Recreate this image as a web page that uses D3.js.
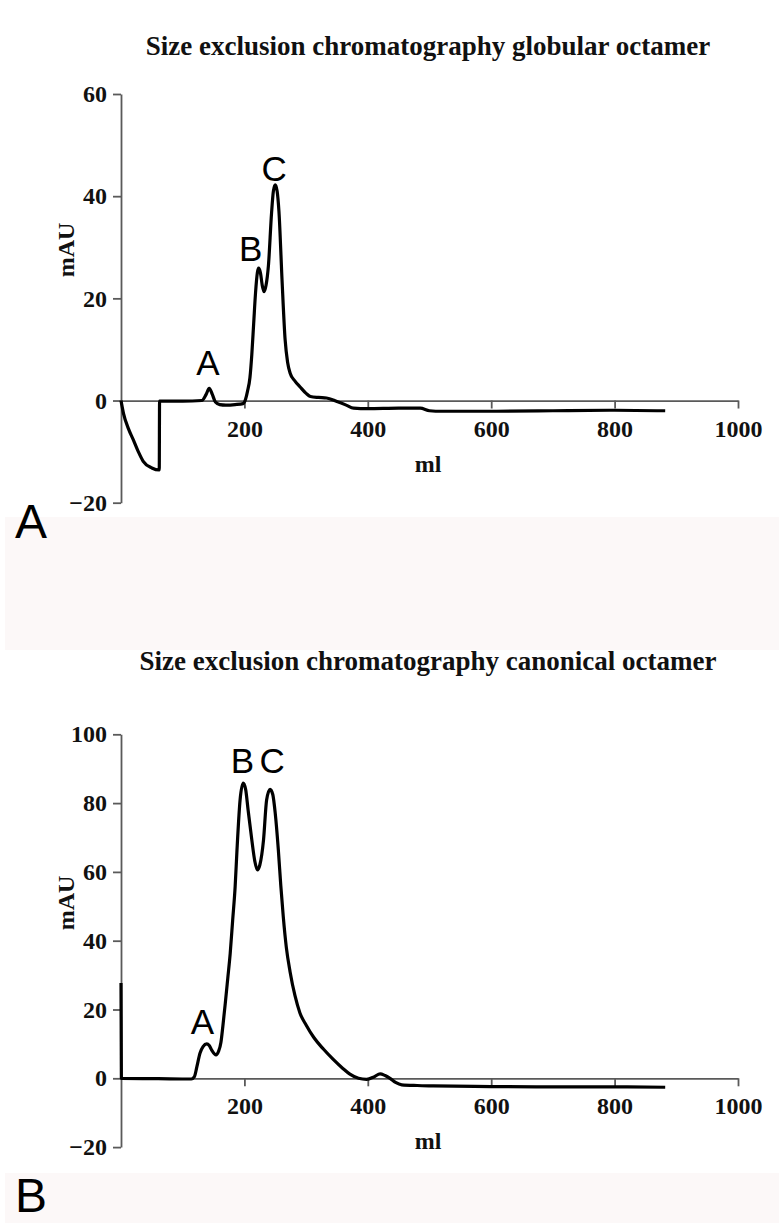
<!DOCTYPE html>
<html>
<head>
<meta charset="utf-8">
<script src="https://cdn.jsdelivr.net/npm/d3@7"></script>
<style>
  body { margin: 0; background: #fff; }
  svg { display: block; }
  .axis path, .axis line { stroke: #5a5a5a; stroke-width: 1.8; }
  .axis text { font-family: "Liberation Serif", "Times New Roman", serif; font-weight: bold; font-size: 24px; fill: #111; }
  .title { font-family: "Liberation Serif", "Times New Roman", serif; font-weight: bold; font-size: 27px; fill: #111; }
  .peak { font-family: "Liberation Sans", Arial, sans-serif; font-size: 35px; fill: #000; }
  .panel { font-family: "Liberation Sans", Arial, sans-serif; font-size: 48px; fill: #000; }
</style>
</head>
<body>
<script>
// globular octamer run (panel A)
var globularMl  = [0, 4, 12, 20, 28, 36, 50, 62, 62.5, 100, 131, 138, 143, 148, 153, 160, 170, 185, 198,
                   202, 205, 209, 212, 215, 218, 221, 223, 226, 229, 232, 235, 239, 244, 247, 250, 253, 256,
                   261, 266, 270, 274, 282, 290, 300, 307, 320, 333, 350, 365, 377, 400, 450, 485, 500,
                   520, 600, 700, 800, 882];
var globularMau = [0, -2.5, -5.5, -7.7, -10, -11.9, -13.2, -13.6, -0.1, -0.1, 0, 1.2, 2.4, 1.2, -0.3, -0.8, -0.9, -0.8, -0.6,
                   0.3, 1.8, 4.5, 9, 15, 21, 25, 25.9, 25, 22.5, 21.3, 22.5, 26.5, 36.7, 41, 42.2, 41, 37,
                   23.6, 11.9, 7.5, 5.4, 3.8, 2.7, 1.4, 0.8, 0.6, 0.5, -0.2, -0.9, -1.5, -1.6, -1.5, -1.5, -2.0,
                   -2.1, -2.1, -2.0, -1.9, -2.0];

// canonical octamer run (panel B)
var canonicalMl  = [0, 0.6, 60, 114, 119, 123, 128, 133, 139, 143, 147, 154, 158, 162, 165, 169, 173, 177, 181,
                    185, 188, 193, 198, 202, 206, 212, 217, 221, 225, 231, 236, 241.6, 246, 250, 255, 259, 263,
                    268, 274, 282, 290, 300, 312, 328, 344, 360, 371, 385, 398, 410, 420, 428, 436, 445, 455,
                    480, 506, 600, 700, 800, 882];
var canonicalMau = [27.7, 0, -0.1, -0.2, 0.5, 3.4, 7.3, 9.2, 10, 9.5, 8.2, 6.8, 7.8, 10.5, 15, 21.8, 29, 36.3, 46,
                    55.7, 66.4, 80.9, 85.8, 84, 78, 69.3, 63, 60.6, 62, 69.3, 80.9, 84, 82.5, 77, 66.4, 56, 47,
                    38, 31, 24, 19, 15.5, 12, 8.5, 5.5, 2.8, 1.2, 0, -0.3, 0.4, 1.3, 0.8, 0, -1.2, -1.9,
                    -2.1, -2.2, -2.4, -2.5, -2.5, -2.6];

var xTicks = [200, 400, 600, 800, 1000];
var globularTicks = [-20, 0, 20, 40, 60];
var canonicalTicks = [-20, 0, 20, 40, 60, 80, 100];

var globularPeaks = [{ label: 'A', ml: 141, mau: 5 }, { label: 'B', ml: 210, mau: 27.3 }, { label: 'C', ml: 248, mau: 43 }];
var canonicalPeaks = [{ label: 'A', ml: 132, mau: 13 }, { label: 'B', ml: 197, mau: 88.8 }, { label: 'C', ml: 245, mau: 88.8 }];

var svg = d3.select('body').append('svg')
    .attr('width', 779)
    .attr('height', 1223);

// light pink strips below each figure
svg.append('rect').attr('x', 5).attr('y', 517).attr('width', 774).attr('height', 133).attr('fill', '#fcf8f8');
svg.append('rect').attr('x', 5).attr('y', 1173).attr('width', 774).attr('height', 50).attr('fill', '#fcf8f8');

function drawPanel(opts) {
    var g = svg.append('g');
    var x = d3.scaleLinear().domain([0, 1000]).range([121, 738]);
    var y = d3.scaleLinear().domain(opts.yDomain).range(opts.yRange);

    g.append('text')
        .attr('class', 'title')
        .attr('x', 428)
        .attr('y', opts.titleY)
        .attr('text-anchor', 'middle')
        .text(opts.title);

    g.append('g')
        .attr('class', 'axis')
        .attr('transform', 'translate(121,0)')
        .call(d3.axisLeft(y).tickValues(opts.yTicks).tickSize(8).tickSizeOuter(0).tickPadding(6).tickFormat(d3.format('d')));

    g.append('g')
        .attr('class', 'axis')
        .attr('transform', 'translate(0,' + y(0) + ')')
        .call(d3.axisBottom(x).tickValues(xTicks).tickSize(8).tickSizeOuter(0).tickPadding(11).tickFormat(d3.format('d')));

    g.append('text')
        .attr('class', 'title')
        .style('font-size', '24px')
        .attr('x', 428)
        .attr('y', y(0) + 71)
        .attr('text-anchor', 'middle')
        .text('ml');

    g.append('text')
        .attr('class', 'title')
        .style('font-size', '24px')
        .attr('transform', 'translate(' + 74 + ',' + opts.labelY + ') rotate(-90)')
        .attr('text-anchor', 'middle')
        .text('mAU');

    var pts = opts.ml.map(function(d, i) { return [d, opts.mau[i]]; });
    var line = d3.line()
        .x(function(d) { return x(d[0]); })
        .y(function(d) { return y(d[1]); })
        .curve(d3.curveMonotoneX);

    g.append('path')
        .datum(pts)
        .attr('d', line)
        .attr('fill', 'none')
        .attr('stroke', '#000')
        .attr('stroke-width', 3.2)
        .attr('stroke-linejoin', 'round');

    g.selectAll('.peak')
        .data(opts.peaks)
        .enter().append('text')
        .attr('class', 'peak')
        .attr('x', function(d) { return x(d.ml); })
        .attr('y', function(d) { return y(d.mau); })
        .attr('text-anchor', 'middle')
        .text(function(d) { return d.label; });

    g.append('text')
        .attr('class', 'panel')
        .attr('x', 15)
        .attr('y', opts.panelY)
        .text(opts.panel);
}

drawPanel({
    title: 'Size exclusion chromatography globular octamer',
    titleY: 55,
    yDomain: [-20, 60],
    yRange: [502.7, 94],
    yTicks: globularTicks,
    labelY: 250,
    ml: globularMl,
    mau: globularMau,
    peaks: globularPeaks,
    panel: 'A',
    panelY: 538
});

drawPanel({
    title: 'Size exclusion chromatography canonical octamer',
    titleY: 670,
    yDomain: [-20, 100],
    yRange: [1147.1, 734.3],
    yTicks: canonicalTicks,
    labelY: 903,
    ml: canonicalMl,
    mau: canonicalMau,
    peaks: canonicalPeaks,
    panel: 'B',
    panelY: 1212
});
</script>
</body>
</html>
